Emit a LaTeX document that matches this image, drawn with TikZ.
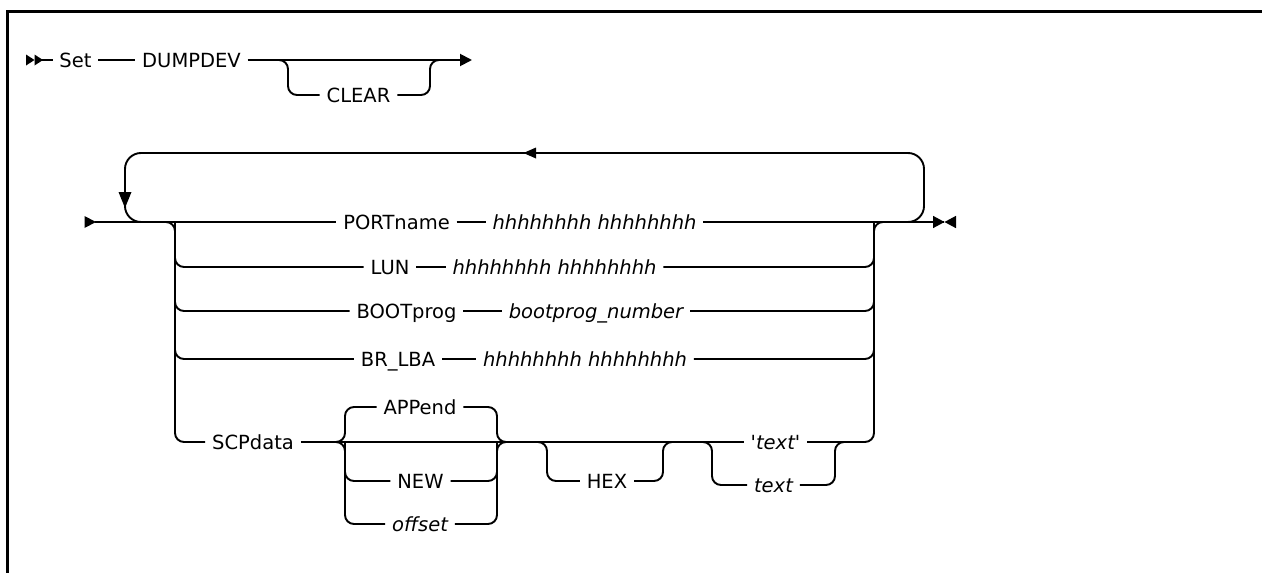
\documentclass[tikz,border=0pt]{standalone}
\usepackage{fontspec}
\setmainfont{DejaVu Sans}
\usetikzlibrary{arrows.meta}
\begin{document}
\begin{tikzpicture}[x=1pt,y=-1pt,line width=1.9pt,
  lbl/.style={font=\fontsize{19.5}{22}\selectfont, inner xsep=6pt, inner ysep=0pt, text height=14.2pt, text depth=0pt},
  ital/.style={lbl, font=\fontsize{19.5}{22}\selectfont\itshape},
  rc/.style={rounded corners=9pt},
  loopc/.style={rounded corners=16pt},
  tip/.style={-{Triangle[length=12pt,width=12pt]}}]
\useasboundingbox (0,0) rectangle (1262,573);
% frame
\draw[line width=3pt] (7,590) -- (7,11.7) -- (1275,11.7);

% ---------- row 1 ----------
\node[lbl] (set) at (75.5,60) {Set};
\node[lbl] (dump) at (191.5,60) {DUMPDEV};
\node[lbl] (clear) at (358.5,95) {CLEAR};
\coordinate (s0) at (42,60);
\coordinate (e1) at (472,60);
\coordinate (c1) at (288,60);
\coordinate (c2) at (430,60);
\fill (26,54.5) -- (34.5,60) -- (26,65.5) -- cycle;
\fill (34.5,54.5) -- (43,60) -- (34.5,65.5) -- cycle;
\draw (s0) -- (set.west);
\draw (set.east) -- (dump.west);
\draw[tip] (dump.east) -- (e1);
\draw[rc] ([xshift=-10pt]c1) -- (c1) |- (clear.west);
\draw[rc] (clear.east) -| (c2) -- ([xshift=10pt]c2);

% ---------- row 2 ----------
\coordinate (m0) at (95,222);
\coordinate (e2) at (944,222);
\node[lbl] (port) at (396.5,222) {PORTname};
\node[ital] (porth) at (594.5,222) {hhhhhhhh hhhhhhhh};
\node[lbl] (lun) at (390,267) {LUN};
\node[ital] (lunh) at (554.5,267) {hhhhhhhh hhhhhhhh};
\node[lbl] (boot) at (406.5,311) {BOOTprog};
\node[ital] (booth) at (596,311) {bootprog\_number};
\node[lbl] (brl) at (398,359) {BR\_LBA};
\node[ital] (brlh) at (585,359) {hhhhhhhh hhhhhhhh};
\node[lbl] (scp) at (253,442) {SCPdata};
\node[lbl] (app) at (420,407) {APPend};
\node[lbl] (new) at (420.5,481) {NEW};
\node[ital] (off) at (420,524) {offset};
\node[lbl] (hex) at (607,481) {HEX};
\node[ital] (tq) at (775.5,442) {\textquotesingle text\textquotesingle};
\node[ital] (tx) at (773.5,485) {text};

% start / end
\fill (84.5,216) -- (96,222) -- (84.5,228) -- cycle;
\draw (m0) -- (port.west);
\draw (port.east) -- (porth.west);
\draw (porth.east) -- (e2);
\fill (933,215.8) -- (944.5,222) -- (933,228.2) -- cycle;
\fill (956,215.8) -- (944.5,222) -- (956,228.2) -- cycle;

% repeat loop
\coordinate (ll) at (125,222);
\coordinate (llt) at (125,153);
\coordinate (lr) at (924,222);
\coordinate (lrt) at (924,153);
\draw[loopc] ([xshift=-24pt]lr) -- (lr) -- (lrt) -- (llt) -- (ll) -- ([xshift=24pt]ll);
\fill (536,147.5) -- (523.5,153) -- (536,158.5) -- cycle;
\fill (118.5,192) -- (125,208) -- (131.5,192) -- cycle;

% left branch spine
\coordinate (bl) at (175,222);
\coordinate (blb) at (175,442);
\draw[rc] ([xshift=-10pt]bl) -- (bl) -- (blb) -- (scp.west);
\draw[rc] (bl) |- (lun.west);
\draw[rc] (bl) |- (boot.west);
\draw[rc] (bl) |- (brl.west);

% right branch spine
\coordinate (rt) at (874,222);
\coordinate (rb) at (874,442);
\draw[rc] ([xshift=10pt]rt) -- (rt) -- (rb) -- (tq.east);
\draw (lun.east) -- (lunh.west);
\draw[rc] (lunh.east) -| (rt);
\draw (boot.east) -- (booth.west);
\draw[rc] (booth.east) -| (rt);
\draw (brl.east) -- (brlh.west);
\draw[rc] (brlh.east) -| (rt);

% SCPdata row
\draw (scp.east) -- (tq.west);
\coordinate (ga) at (345,442);
\coordinate (gb) at (497,442);
\draw[rc] ([xshift=-10pt]ga) -- (ga) |- (app.west);
\draw[rc] ([xshift=-10pt]ga) -- (ga) |- (off.west);
\draw[rc] (ga) |- (new.west);
\draw[rc] (app.east) -| (gb) -- ([xshift=10pt]gb);
\draw[rc] (off.east) -| (gb) -- ([xshift=10pt]gb);
\draw[rc] (new.east) -| (gb);

\coordinate (hx1) at (547,442);
\coordinate (hx2) at (663,442);
\draw[rc] ([xshift=-9pt]hx1) -- (hx1) |- (hex.west);
\draw[rc] (hex.east) -| (hx2) -- ([xshift=10pt]hx2);

\coordinate (tx1) at (712,442);
\coordinate (tx2) at (835,442);
\draw[rc] ([xshift=-9pt]tx1) -- (tx1) |- (tx.west);
\draw[rc] (tx.east) -| (tx2) -- ([xshift=8pt]tx2);
\end{tikzpicture}
\end{document}
